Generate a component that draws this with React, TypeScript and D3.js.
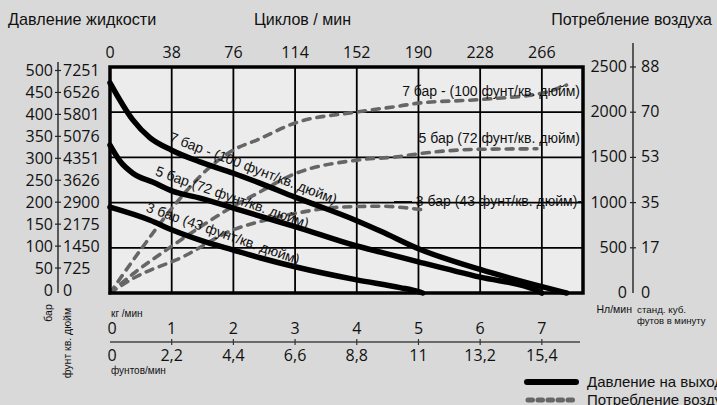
import React from 'react';
import * as d3 from 'd3';

// ---------- data ----------
const cycleTicks = [0, 38, 76, 114, 152, 190, 228, 266];
const kgTicks = [0, 1, 2, 3, 4, 5, 6, 7];
const lbLabels = ['0', '2,2', '4,4', '6,6', '8,8', '11', '13,2', '15,4'];
const barTicks = [0, 50, 100, 150, 200, 250, 300, 350, 400, 450, 500];
const psiLabels = ['0', '725', '1450', '2175', '2900', '3626', '4351', '5076', '5801', '6526', '7251'];
const nlTicks = [0, 500, 1000, 1500, 2000, 2500];
const scfmLabels = ['0', '17', '35', '53', '70', '88'];
const barGrid = [100, 200, 300, 400];

// pressure curves: [kg/min, bar]
const pressure7: [number, number][] = [[0, 465], [0.37, 383], [0.65, 343], [1.0, 316], [1.46, 290], [2.0, 265], [2.43, 243], [3.0, 212], [4.0, 160], [4.4, 136], [5.0, 98], [6.0, 52], [7.0, 14], [7.4, 0]];
const pressure5: [number, number][] = [[0, 327], [0.16, 292], [0.37, 265], [0.7, 245], [1.0, 226], [1.46, 210], [2.0, 188], [2.43, 170], [3.0, 147], [4.0, 104], [4.4, 90], [5.0, 69], [6.0, 35], [6.9, 7], [7.0, 0]];
const pressure3: [number, number][] = [[0, 190], [0.65, 161], [1.0, 140], [1.46, 117], [2.0, 95], [2.43, 78], [3.0, 58], [4.0, 29], [4.7, 12], [5.0, 3], [5.07, 0]];

// air consumption curves: [kg/min, Nl/min]
const air7: [number, number][] = [[0, 0], [0.53, 509], [1.02, 951], [1.62, 1394], [2.0, 1582], [2.38, 1692], [3.0, 1881], [4.0, 2002], [4.7, 2069], [5.0, 2100], [6.0, 2140], [7.0, 2210], [7.4, 2300]];
const air5: [number, number][] = [[0, 0], [0.37, 210], [0.92, 480], [1.62, 800], [2.0, 960], [2.38, 1100], [3.0, 1320], [4.0, 1470], [4.7, 1510], [5.0, 1540], [6.0, 1590], [6.92, 1595]];
const air3: [number, number][] = [[0, 0], [0.37, 160], [1.18, 400], [2.0, 700], [2.43, 790], [3.0, 880], [3.73, 950], [4.38, 960], [5.07, 920]];

const curveLabels = ['7 бар - (100 фунт/кв. дюйм)', '5 бар.(72 фунт/кв. дюйм)', '3 бар (43 фунт/кв. дюйм)'];
const airLabels = ['7 бар - (100 фунт/кв. дюйм)', '5 бар (72 фунт/кв. дюйм)', '3 бар (43 фунт/кв. дюйм)-'];
const legendLabels = ['Давление на выходе', 'Потребление воздуха'];

// ---------- layout ----------
const W = 717, H = 405;
const L = 110, R = 583, T = 67, B = 293;
const sans = '"Liberation Sans", Arial, sans-serif';
const num = '"Open Sans", sans-serif';

export default function App() {
  const x = d3.scaleLinear().domain([0, 7.667]).range([L, R]);
  const xc = d3.scaleLinear().domain([0, 7.667 * 38]).range([L, R]);
  const yb = d3.scaleLinear().domain([0, 500]).range([B, T]);
  const ya = d3.scaleLinear().domain([0, 2500]).range([B, T]);
  const yLeft = d3.scaleLinear().domain([0, 500]).range([290, 70.5]);

  const lineP = d3.line<[number, number]>().x(d => x(d[0])).y(d => yb(d[1])).curve(d3.curveMonotoneX);
  const lineA = d3.line<[number, number]>().x(d => x(d[0])).y(d => ya(d[1])).curve(d3.curveMonotoneX);

  const leftAxisX = 58;
  const rightAxisX = 633;
  const bottomAxisY = 342;

  // label anchors in data space
  const lab7 = { x: x(0.95), y: yb(325) - 5, a: 20.8 };
  const lab5 = { x: x(0.72), y: yb(250) - 5, a: 19.3 };
  const lab3 = { x: x(0.57), y: yb(170) - 5, a: 19.3 };

  return (
    <svg width={W} height={H} style={{ position: 'absolute', left: 0, top: 0, background: '#d9d9d9' }}>
      <rect x={0} y={0} width={W} height={H} fill="#d9d9d9" />
      {/* titles */}
      <text x={8} y={25} fontFamily={sans} fontSize={16.2} fill="#111">Давление жидкости</text>
      <text x={254} y={25} fontFamily={sans} fontSize={16} fill="#111">Циклов / мин</text>
      <text x={712} y={25} textAnchor="end" fontFamily={sans} fontSize={16} fill="#111">Потребление воздуха</text>

      {/* top cycles ticks */}
      {cycleTicks.map(c => (
        <text key={'c' + c} x={xc(c)} y={58} textAnchor="middle" fontFamily={num} fontSize={16} fill="#111">{c}</text>
      ))}

      {/* plot */}
      <rect x={L} y={T} width={R - L} height={B - T} fill="#ececec" />
      {kgTicks.slice(1).map(k => (
        <line key={'gv' + k} x1={x(k)} x2={x(k)} y1={T} y2={B} stroke="#000" strokeWidth={1.8} />
      ))}
      {barGrid.map(b => (
        <line key={'gh' + b} x1={L} x2={R} y1={yb(b)} y2={yb(b)} stroke="#000" strokeWidth={1.8} />
      ))}

      {/* air curves */}
      {[air7, air5, air3].map((d, i) => (
        <path key={'a' + i} d={lineA(d) || ''} fill="none" stroke="#666" strokeWidth={3.6} strokeDasharray="7 7" strokeLinecap="round" />
      ))}
      {/* pressure curves */}
      {[pressure7, pressure5, pressure3].map((d, i) => (
        <path key={'p' + i} d={lineP(d) || ''} fill="none" stroke="#000" strokeWidth={5.5} strokeLinecap="round" />
      ))}

      <rect x={L} y={T} width={R - L} height={B - T} fill="none" stroke="#000" strokeWidth={3.5} />

      {/* curve labels */}
      {[lab7, lab5, lab3].map((p, i) => (
        <text key={'cl' + i} transform={`translate(${p.x},${p.y}) rotate(${p.a})`} fontFamily={sans} fontSize={14} fill="#111">{curveLabels[i]}</text>
      ))}
      <text x={580} y={96} textAnchor="end" fontFamily={sans} fontSize={14} fill="#111">{airLabels[0]}</text>
      <text x={580} y={143} textAnchor="end" fontFamily={sans} fontSize={14} fill="#111">{airLabels[1]}</text>
      <line x1={394} x2={412} y1={ya(1000) - 1} y2={ya(1000) - 1} stroke="#000" strokeWidth={1} />
      <text x={582} y={206} textAnchor="end" fontFamily={sans} fontSize={14} fill="#111">{airLabels[2]}</text>

      {/* left axis */}
      <line x1={leftAxisX} x2={leftAxisX} y1={62} y2={B} stroke="#222" strokeWidth={1.4} />
      {barTicks.map((b, i) => (
        <g key={'lb' + b}>
          {b > 0 && <line x1={leftAxisX - 3} x2={leftAxisX + 3} y1={yLeft(b)} y2={yLeft(b)} stroke="#222" strokeWidth={1.2} />}
          <text x={53} y={yLeft(b) + 5.5} textAnchor="end" fontFamily={num} fontSize={16} fill="#111">{b}</text>
          <text x={63} y={yLeft(b) + 5.5} textAnchor="start" fontFamily={num} fontSize={16} fill="#111">{psiLabels[i]}</text>
        </g>
      ))}
      <text transform={`translate(52,313) rotate(-90)`} textAnchor="middle" fontFamily={sans} fontSize={10.5} fill="#111">бар</text>
      <text transform={`translate(71,343) rotate(-90)`} textAnchor="middle" fontFamily={sans} fontSize={10.5} fill="#111">фунт кв. дюйм</text>

      {/* right axis */}
      <line x1={rightAxisX} x2={rightAxisX} y1={43} y2={B} stroke="#222" strokeWidth={1.4} />
      {nlTicks.map((n, i) => (
        <g key={'rn' + n}>
          {n > 0 && <line x1={rightAxisX - 3} x2={rightAxisX + 3} y1={ya(n)} y2={ya(n)} stroke="#222" strokeWidth={1.2} />}
          <text x={627} y={ya(n) + 5} textAnchor="end" fontFamily={num} fontSize={16} fill="#111">{n}</text>
          <text x={641} y={ya(n) + 5} textAnchor="start" fontFamily={num} fontSize={16} fill="#111">{scfmLabels[i]}</text>
        </g>
      ))}
      <text x={632} y={312.5} textAnchor="end" fontFamily={sans} fontSize={10.5} fill="#111">Нл/мин</text>
      <text x={637} y={312.5} fontFamily={sans} fontSize={9.8} fill="#111">станд. куб.</text>
      <text x={637} y={323.5} fontFamily={sans} fontSize={9.5} fill="#111">футов в минуту</text>

      {/* bottom axis */}
      <text x={111} y={317} fontFamily={sans} fontSize={10} fill="#111">кг /мин</text>
      <line x1={L} x2={580} y1={bottomAxisY} y2={bottomAxisY} stroke="#444" strokeWidth={1.4} />
      {kgTicks.map((k, i) => (
        <g key={'bk' + k}>
          {k > 0 && <line x1={x(k)} x2={x(k)} y1={bottomAxisY - 3} y2={bottomAxisY + 3} stroke="#333" strokeWidth={1.2} />}
          <text x={x(k) + (k === 0 ? 2 : 0)} y={334} textAnchor="middle" fontFamily={num} fontSize={16} fill="#111">{k}</text>
          <text x={x(k) + (k === 0 ? 2 : 0)} y={361} textAnchor="middle" fontFamily={num} fontSize={16} fill="#111">{lbLabels[i]}</text>
        </g>
      ))}
      <text x={111} y={374} fontFamily={sans} fontSize={10} fill="#111">фунтов/мин</text>

      {/* legend */}
      <line x1={527} x2={576} y1={382} y2={382} stroke="#000" strokeWidth={6} strokeLinecap="round" />
      <text x={587} y={387} fontFamily={sans} fontSize={15} fill="#111">{legendLabels[0]}</text>
      <line x1={528} x2={576} y1={400} y2={400} stroke="#666" strokeWidth={5} strokeDasharray="4.5 5.5" strokeLinecap="round" />
      <text x={587} y={405} fontFamily={sans} fontSize={15} fill="#111">{legendLabels[1]}</text>
    </svg>
  );
}
